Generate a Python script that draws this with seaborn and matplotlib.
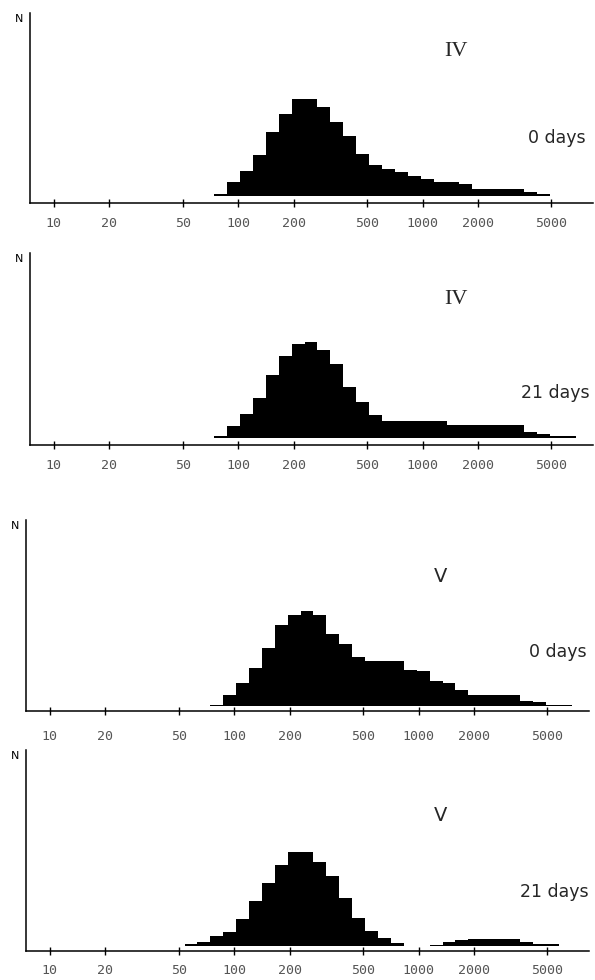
import numpy as np
import matplotlib
matplotlib.use('Agg')
import matplotlib.pyplot as plt
from matplotlib.ticker import NullLocator
import seaborn as sns

# size class boundaries (same classes in all four panels)
size_edges = [54, 63, 74, 87, 102, 120, 141, 166, 195, 229, 269, 316, 372, 437,
              513, 603, 708, 832, 977, 1148, 1349, 1585, 1862, 2188, 2570, 3020,
              3548, 4169, 4898, 5754, 6761, 7943]

# N per size class (arbitrary units)
iv_0d = [0, 0, 6, 40, 75, 122, 192, 246, 291, 291, 266, 221, 178, 125, 93, 80,
         72, 58, 50, 42, 40, 36, 20, 20, 20, 20, 11, 6, 0, 0, 0]
iv_21d = [0, 0, 5, 37, 73, 120, 188, 247, 283, 289, 263, 222, 153, 107, 70, 50,
          50, 50, 50, 50, 38, 38, 38, 38, 38, 38, 17, 12, 7, 7, 0]
v_0d = [0, 0, 3, 35, 70, 115, 175, 245, 275, 285, 275, 217, 187, 148, 135, 135,
        135, 108, 105, 77, 70, 50, 35, 35, 35, 35, 15, 12, 3, 3, 0]
v_21d = [5, 13, 31, 43, 81, 135, 188, 243, 283, 283, 253, 210, 145, 85, 45, 23,
         8, 0, 0, 4, 11, 18, 21, 21, 21, 21, 13, 6, 6, 0, 0]

tick_values = [10, 20, 50, 100, 200, 500, 1000, 2000, 5000]
tick_labels = ['10', '20', '50', '100', '200', '500', '1000', '2000', '5000']

stage_labels = ['IV', 'IV', 'V', 'V']
day_labels = ['0 days', '21 days', '0 days', '21 days']

sns.set_theme(style='white')
plt.rcParams['font.family'] = ['DejaVu Sans']

W, H = 595, 980
fig = plt.figure(figsize=(W / 100, H / 100), dpi=100)

# panel boxes in pixels: left, top, right, bottom, base offset, label pad
boxes = [(30, 13, 593, 203, 22, 7),
         (30, 253, 593, 445, 21, 7),
         (26, 520, 589, 711, 14, 11),
         (26, 750, 589, 951, 15, 6)]
stage_pos = [(456, 52), (456, 299), (441, 576), (441, 815)]
day_pos = [(557, 138), (555, 393), (558, 652), (554, 892)]

edges = np.array(size_edges, dtype=float)
mids = np.sqrt(edges[:-1] * edges[1:])
log_edges = [float(e) for e in np.log10(edges)]

for i, counts in enumerate([iv_0d, iv_21d, v_0d, v_21d]):
    l, t, r, b, off, pad = boxes[i]
    ax = fig.add_axes([l / W, 1 - b / H, (r - l) / W, (b - t) / H])
    sns.histplot(x=list(mids), weights=list(counts), bins=log_edges,
                 log_scale=True, element='step', fill=True, color='black',
                 alpha=1, linewidth=0, ax=ax)
    ax.set_xlim(7.43, 8400)
    ax.set_ylim(-off, -off + 3 * (b - t))
    ax.set_xticks(tick_values)
    ax.set_xticklabels(tick_labels, family='DejaVu Sans Mono', fontsize=9.5,
                       color='#555555')
    ax.xaxis.set_minor_locator(NullLocator())
    ax.set_yticks([])
    ax.set_xlabel('')
    ax.set_ylabel('')
    ax.tick_params(axis='x', direction='inout', length=6, width=1,
                   color='black', pad=pad, bottom=True)
    sns.despine(ax=ax)
    for s in ['left', 'bottom']:
        ax.spines[s].set_color('black')
        ax.spines[s].set_linewidth(1.1)
    ax.text(-0.012, 1 - 6 / (b - t), 'N', transform=ax.transAxes,
            ha='right', va='center', fontsize=8, color='black')

    sx, sy = stage_pos[i]
    fam = 'Liberation Serif' if stage_labels[i] == 'IV' else 'DejaVu Sans'
    fig.text(sx / W, 1 - sy / H, stage_labels[i], ha='center', va='center',
             family=fam, fontsize=16 if fam == 'Liberation Serif' else 14)
    dx, dy = day_pos[i]
    fig.text(dx / W, 1 - dy / H, day_labels[i], ha='center', va='center',
             fontsize=12.5)

fig.savefig('out.png', dpi=100)
